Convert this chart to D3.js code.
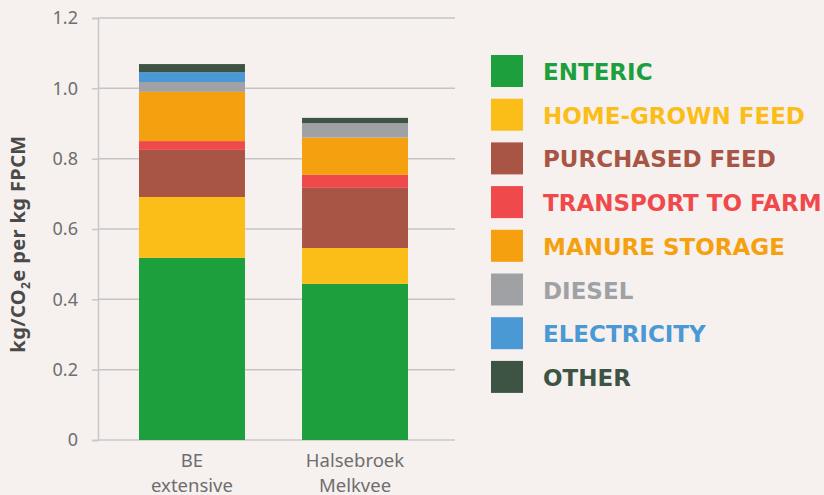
<!DOCTYPE html>
<html>
<head>
<meta charset="utf-8">
<script src="https://cdn.jsdelivr.net/npm/d3@7"></script>
<style>
  html, body { margin: 0; padding: 0; background: #f6f1ef; }
  svg { display: block; }
</style>
</head>
<body>
<svg width="824" height="495"></svg>
<script>
// data
const farms = ["BE extensive", "Halsebroek Melkvee"];
const sources = ["Enteric", "Home-grown feed", "Purchased feed", "Transport to farm",
                 "Manure storage", "Diesel", "Electricity", "Other"];
const enteric       = [0.518, 0.444];
const homeGrown     = [0.173, 0.102];
const purchased     = [0.134, 0.171];
const transport     = [0.025, 0.037];
const manure        = [0.140, 0.106];
const diesel        = [0.028, 0.041];
const electricity   = [0.028, 0.000];
const other         = [0.023, 0.015];
const yTicks = [0, 0.2, 0.4, 0.6, 0.8, 1.0, 1.2];

const colors = ["#1c9f3c", "#fbbd17", "#a85545", "#ef494c", "#f5a00e", "#a0a1a5", "#4a98d4", "#3d5445"];

const series = [enteric, homeGrown, purchased, transport, manure, diesel, electricity, other];
const rows = farms.map((f, i) => {
  const r = { farm: f };
  sources.forEach((s, j) => r[s] = series[j][i]);
  return r;
});

const svg = d3.select("svg");
const margin = { left: 98, right: 455, top: 18, bottom: 440 };

const x = d3.scaleBand()
    .domain(farms)
    .range([98, 449])
    .paddingInner(0.35)
    .paddingOuter(0.2515);

const y = d3.scaleLinear()
    .domain([0, 1.2])
    .range([margin.bottom, margin.top]);

// gridlines
svg.append("g")
  .selectAll("line")
  .data(yTicks.slice(1))
  .join("line")
    .attr("x1", margin.left)
    .attr("x2", margin.right)
    .attr("y1", d => y(d))
    .attr("y2", d => y(d))
    .attr("stroke", "#c6c3c5")
    .attr("stroke-width", 1.5);

// y axis
const yAxis = svg.append("g")
    .attr("transform", `translate(${margin.left},0)`)
    .call(d3.axisLeft(y).tickValues(yTicks).tickSize(6).tickPadding(14)
      .tickFormat(d => d === 0 ? "0" : d3.format(".1f")(d)));
yAxis.select(".domain").attr("stroke", "#c9c7c8").attr("stroke-width", 1.5);
yAxis.selectAll(".tick line").attr("stroke", "#c9c7c8").attr("stroke-width", 1.5);
yAxis.selectAll(".tick text")
    .attr("fill", "#6e6e6e")
    .attr("font-family", "'Noto Sans', sans-serif")
    .attr("font-size", 18);

// x baseline
svg.append("line")
    .attr("x1", margin.left).attr("x2", margin.right)
    .attr("y1", y(0)).attr("y2", y(0))
    .attr("stroke", "#c9c7c8").attr("stroke-width", 1.5);

// stacked bars
const stacked = d3.stack().keys(sources)(rows);
svg.append("g")
  .selectAll("g")
  .data(stacked)
  .join("g")
    .attr("fill", (d, i) => colors[i])
  .selectAll("rect")
  .data(d => d.filter(p => p[1] - p[0] > 0))
  .join("rect")
    .attr("x", d => x(d.data.farm))
    .attr("width", x.bandwidth())
    .attr("y", d => y(d[1]))
    .attr("height", d => y(d[0]) - y(d[1]));

// x labels, two lines each
const xl = svg.append("g")
  .selectAll("text")
  .data(farms)
  .join("text")
    .attr("x", d => x(d) + x.bandwidth() / 2)
    .attr("y", 467)
    .attr("text-anchor", "middle")
    .attr("fill", "#6e6e6e")
    .attr("font-family", "'Noto Sans', sans-serif")
    .attr("font-size", 18.5);
xl.each(function (d) {
  const words = d.split(" ");
  const t = d3.select(this);
  t.append("tspan").attr("x", x(d) + x.bandwidth() / 2).text(words[0]);
  t.append("tspan").attr("x", x(d) + x.bandwidth() / 2).attr("dy", 25).text(words.slice(1).join(" "));
});

// y title
const yt = svg.append("text")
    .attr("transform", "translate(25,244) rotate(-90)")
    .attr("text-anchor", "middle")
    .attr("fill", "#4a4a4a")
    .attr("font-family", "'Noto Sans', sans-serif")
    .attr("font-weight", "bold")
    .attr("font-size", 20)
    .attr("letter-spacing", 0.4);
yt.append("tspan").text("kg/CO");
yt.append("tspan").attr("font-size", 12).attr("dy", 5).text("2");
yt.append("tspan").attr("dy", -5).text("e per kg FPCM");

// legend
const legend = svg.append("g")
  .selectAll("g")
  .data(sources)
  .join("g")
    .attr("transform", (d, i) => `translate(491,${55 + i * 43.7})`);
legend.append("rect")
    .attr("width", 32).attr("height", 32)
    .attr("fill", (d, i) => colors[i]);
legend.append("text")
    .attr("x", 52).attr("y", 25)
    .attr("fill", (d, i) => colors[i])
    .attr("font-family", "'DejaVu Sans', sans-serif")
    .attr("font-weight", "bold")
    .attr("font-size", 23)
    .text(d => d.toUpperCase());
</script>
</body>
</html>
